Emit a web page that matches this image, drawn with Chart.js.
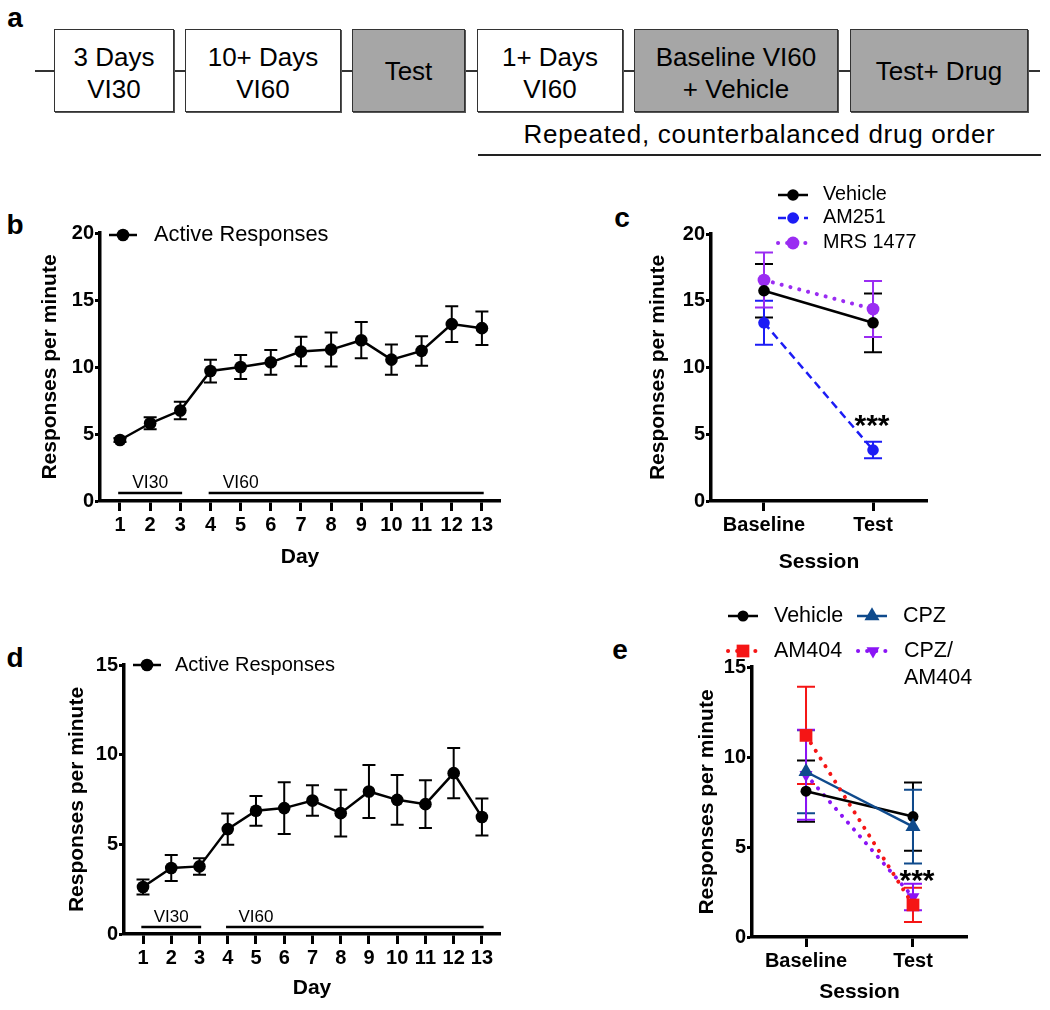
<!DOCTYPE html>
<html>
<head>
<meta charset="utf-8">
<title>Responses per minute</title>
<script src="https://cdn.jsdelivr.net/npm/chart.js@4.4.1/dist/chart.umd.min.js"></script>
<style>
  body { margin: 0; background: #fff; }
  #page { position: relative; width: 1050px; height: 1010px; overflow: hidden; font-family: 'Liberation Sans', Arial, Helvetica, sans-serif; color: #000; }
  .letter { position: absolute; font-weight: bold; font-size: 28px; line-height: 1; transform: translate(-50%, -50%); }
  .track { position: absolute; left: 35px; top: 70px; width: 1005px; height: 2px; background: #333; }
  .box { position: absolute; top: 29px; height: 83px; box-sizing: border-box; border: 1.5px solid #333;
         box-shadow: 1px 1px 0 #555; background: #fff; display: flex; align-items: center; justify-content: center;
         text-align: center; font-size: 26px; line-height: 32px; }
  .box.two { padding-top: 5px; }
  .box.grey { background: #a6a6a6; }
  .caption { position: absolute; left: 478px; width: 563px; top: 119px; text-align: center; font-size: 26px;
             line-height: 30px; letter-spacing: 0.7px; }
  .underline { position: absolute; left: 478px; top: 154px; width: 563px; height: 2px; background: #222; }
  canvas { position: absolute; }
</style>
</head>
<body>
<div id="page">
  <div class="letter" style="left:15px;top:18px">a</div>
  <div class="track"></div>
  <div class="box two" style="left:54px;width:120px">3 Days<br>VI30</div>
  <div class="box two" style="left:185px;width:156px">10+ Days<br>VI60</div>
  <div class="box grey" style="left:352px;width:113px">Test</div>
  <div class="box two" style="left:477px;width:146px">1+ Days<br>VI60</div>
  <div class="box two grey" style="left:634px;width:204px">Baseline VI60<br>+ Vehicle</div>
  <div class="box grey" style="left:850px;width:178px">Test+ Drug</div>
  <div class="caption">Repeated, counterbalanced drug order</div>
  <div class="underline"></div>

  <div class="letter" style="left:15px;top:225px">b</div>
  <div class="letter" style="left:622px;top:218px">c</div>
  <div class="letter" style="left:15px;top:658px">d</div>
  <div class="letter" style="left:620px;top:650px">e</div>

  <canvas id="chartB" width="560" height="410" style="left:0;top:175px"></canvas>
  <canvas id="chartC" width="490" height="420" style="left:560px;top:170px"></canvas>
  <canvas id="chartD" width="560" height="420" style="left:0;top:590px"></canvas>
  <canvas id="chartE" width="490" height="420" style="left:560px;top:590px"></canvas>
</div>

<script>
// ---- data ----
const days = [1, 2, 3, 4, 5, 6, 7, 8, 9, 10, 11, 12, 13];
const sessions = ['Baseline', 'Test'];

// panel b: acquisition, active responses
const bMeans  = [4.55, 5.8, 6.75, 9.7, 10.0, 10.35, 11.15, 11.3, 12.0, 10.55, 11.2, 13.2, 12.9];
const bErrors = [0.15, 0.45, 0.65, 0.85, 0.9, 0.92, 1.1, 1.27, 1.35, 1.12, 1.1, 1.33, 1.25];
const bYTicks = [0, 5, 10, 15, 20];

// panel c: drug test
const cVehicle    = [15.75, 13.35];
const cVehicleErr = [2.0, 2.2];
const cAM251      = [13.35, 3.82];
const cAM251Err   = [1.65, 0.62];
const cMRS        = [16.55, 14.38];
const cMRSErr     = [2.06, 2.1];
const cYTicks = [0, 5, 10, 15, 20];

// panel d: acquisition, second cohort
const dMeans  = [2.62, 3.68, 3.77, 5.85, 6.87, 7.02, 7.44, 6.74, 7.95, 7.48, 7.24, 8.97, 6.52];
const dErrors = [0.42, 0.73, 0.46, 0.87, 0.83, 1.44, 0.85, 1.3, 1.48, 1.39, 1.33, 1.4, 1.03];
const dYTicks = [0, 5, 10, 15];

// panel e: drug test
const eVehicle     = [8.1, 6.69];
const eVehicleErr  = [1.7, 1.9];
const eCPZ         = [9.18, 6.13];
const eCPZErr      = [2.3, 2.05];
const eAM404       = [11.2, 1.78];
const eAM404Err    = [2.7, 0.95];
const eCombo       = [9.02, 2.22];
const eComboErr    = [2.5, 0.74];
const eYTicks = [0, 5, 10, 15];

// schedule phases under the acquisition curves
const phases = [
  { label: 'VI30', from: 1, to: 3 },
  { label: 'VI60', from: 4, to: 13 }
];

const FONT = "'Liberation Sans', Arial, Helvetica, sans-serif";
Chart.defaults.font.family = FONT;
Chart.defaults.color = '#000';

// ---- plugins ----
function marker(ctx, style, radius, rotation, x, y) {
  if (Chart.helpers && Chart.helpers.drawPoint) {
    Chart.helpers.drawPoint(ctx, { pointStyle: style, radius, rotation, borderWidth: 0 }, x, y);
    return;
  }
  ctx.beginPath();
  ctx.arc(x, y, radius, 0, Math.PI * 2);
  ctx.fill();
}

const errorBarPlugin = {
  id: 'errorBars',
  beforeDatasetsDraw(chart, args, opts) {
    const { ctx } = chart;
    const y = chart.scales.y;
    chart.data.datasets.forEach((ds, i) => {
      if (!ds.errors) return;
      const meta = chart.getDatasetMeta(i);
      ctx.save();
      ctx.strokeStyle = ds.borderColor;
      ctx.lineWidth = opts.width;
      meta.data.forEach((pt, j) => {
        const v = ds.data[j].y;
        const e = ds.errors[j];
        const top = y.getPixelForValue(v + e);
        const bot = y.getPixelForValue(v - e);
        ctx.beginPath();
        ctx.moveTo(pt.x, top); ctx.lineTo(pt.x, bot);
        ctx.moveTo(pt.x - opts.cap / 2, top); ctx.lineTo(pt.x + opts.cap / 2, top);
        ctx.moveTo(pt.x - opts.cap / 2, bot); ctx.lineTo(pt.x + opts.cap / 2, bot);
        ctx.stroke();
      });
      ctx.restore();
    });
  }
};

const phasePlugin = {
  id: 'phaseBars',
  afterDatasetsDraw(chart, args, opts) {
    if (!opts.items) return;
    const { ctx } = chart;
    const { x, y } = chart.scales;
    const base = y.getPixelForValue(0) - opts.lift;
    ctx.save();
    ctx.strokeStyle = '#000';
    ctx.fillStyle = '#000';
    ctx.lineWidth = 2.5;
    ctx.font = `${opts.size}px ${FONT}`;
    ctx.textAlign = 'center';
    ctx.textBaseline = 'middle';
    opts.items.forEach(p => {
      ctx.beginPath();
      ctx.moveTo(x.getPixelForValue(p.from - 0.06), base);
      ctx.lineTo(x.getPixelForValue(p.to + 0.06), base);
      ctx.stroke();
      ctx.fillText(p.label, x.getPixelForValue(p.from + 1), base - opts.textGap);
    });
    ctx.restore();
  }
};

const starPlugin = {
  id: 'stars',
  afterDatasetsDraw(chart, args, opts) {
    if (!opts.text) return;
    const { ctx } = chart;
    const px = chart.scales.x.getPixelForValue(opts.x) + (opts.dx || 0);
    const py = chart.scales.y.getPixelForValue(opts.y);
    ctx.save();
    ctx.fillStyle = '#000';
    ctx.font = `bold ${opts.size}px ${FONT}`;
    ctx.textAlign = 'center';
    ctx.textBaseline = 'alphabetic';
    ctx.fillText(opts.text, px, py + opts.size * 0.55);
    ctx.restore();
  }
};

const legendPlugin = {
  id: 'prismLegend',
  afterDraw(chart, args, opts) {
    if (!opts.items) return;
    const { ctx } = chart;
    ctx.save();
    chart.data.datasets.forEach((ds, i) => {
      const it = opts.items[i];
      if (!it) return;
      ctx.strokeStyle = ds.borderColor;
      ctx.lineWidth = ds.borderWidth;
      ctx.lineCap = ds.borderCapStyle || 'butt';
      ctx.setLineDash(ds.borderDash || []);
      ctx.beginPath();
      ctx.moveTo(it.x - opts.half, it.y);
      ctx.lineTo(it.x + opts.half, it.y);
      ctx.stroke();
      ctx.setLineDash([]);
      ctx.lineCap = 'butt';
      ctx.fillStyle = ds.pointBackgroundColor;
      marker(ctx, ds.pointStyle || 'circle', ds.pointRadius, ds.pointRotation || 0, it.x, it.y);
      ctx.fillStyle = '#000';
      ctx.font = `${opts.size}px ${FONT}`;
      ctx.textAlign = 'left';
      ctx.textBaseline = 'middle';
      const lines = it.lines || [ds.label];
      lines.forEach((t, k) => ctx.fillText(t, it.x + opts.textDx, it.y + k * opts.lineGap));
    });
    ctx.restore();
  }
};

// ---- axis helpers ----
const axisBorder = { display: true, width: 3.5, color: '#000' };
function axisGrid(len) {
  return { drawOnChartArea: false, drawTicks: true, tickLength: len, tickWidth: 3, tickColor: '#000' };
}

function valueAxis(tickValues, width, titlePad) {
  return {
    type: 'linear',
    min: tickValues[0],
    max: tickValues[tickValues.length - 1],
    afterBuildTicks: ax => { ax.ticks = tickValues.map(v => ({ value: v })); },
    ticks: { color: '#000', font: { size: 20, weight: 'bold' }, padding: 1 },
    grid: axisGrid(5),
    border: axisBorder,
    title: { display: true, text: 'Responses per minute', color: '#000',
             font: { size: 21, weight: 'bold' }, padding: { top: titlePad, bottom: 0 } },
    afterFit: ax => { ax.width = width; }
  };
}

function categoryAxis(values, labels, min, max, title, height, titlePad) {
  return {
    type: 'linear',
    min, max,
    afterBuildTicks: ax => { ax.ticks = values.map(v => ({ value: v })); },
    ticks: { color: '#000', font: { size: 20, weight: 'bold' }, padding: 2, autoSkip: false, maxRotation: 0,
             callback: v => labels[values.indexOf(v)] },
    grid: axisGrid(10),
    border: axisBorder,
    title: { display: true, text: title, color: '#000',
             font: { size: 21, weight: 'bold' }, padding: { top: 0, bottom: titlePad } },
    afterFit: ax => { ax.height = height; }
  };
}

function series(label, xs, ys, errs, style) {
  return Object.assign({
    label,
    data: ys.map((v, i) => ({ x: xs[i], y: v })),
    errors: errs,
    backgroundColor: style.borderColor,
    pointBackgroundColor: style.borderColor,
    pointBorderWidth: 0,
    pointHoverRadius: style.pointRadius,
    tension: 0,
    fill: false
  }, style);
}

function baseOptions(padding, scales, plugins) {
  return {
    responsive: false,
    animation: false,
    devicePixelRatio: 1,
    layout: { padding },
    scales,
    plugins: Object.assign({ legend: { display: false }, tooltip: { enabled: false } }, plugins)
  };
}

const allPlugins = [errorBarPlugin, phasePlugin, starPlugin, legendPlugin];
const sessionIdx = sessions.map((s, i) => i);
const dayLabels = days.map(String);

// ---- panel b ----
new Chart(document.getElementById('chartB'), {
  type: 'line',
  data: { datasets: [
    series('Active Responses', days, bMeans, bErrors, { borderColor: '#000', borderWidth: 2.5, pointRadius: 6.3 })
  ] },
  options: baseOptions({ top: 58, right: 60, left: 0, bottom: 0 }, {
    x: categoryAxis(days, dayLabels, 0.337, 13.6, 'Day', 84, 15.4),
    y: valueAxis(bYTicks, 100, 37.4)
  }, {
    errorBars: { width: 2, cap: 13 },
    phaseBars: { items: phases, lift: 8, textGap: 10, size: 17.5 },
    prismLegend: { items: [{ x: 123, y: 60 }], half: 14, textDx: 31, size: 21.8, lineGap: 0 }
  }),
  plugins: allPlugins
});

// ---- panel c ----
new Chart(document.getElementById('chartC'), {
  type: 'line',
  data: { datasets: [
    series('Vehicle', sessionIdx, cVehicle, cVehicleErr, { borderColor: '#000', borderWidth: 2.5, pointRadius: 5.8 }),
    series('AM251', sessionIdx, cAM251, cAM251Err, { borderColor: '#1c1cf5', borderWidth: 2.5, borderDash: [8, 5], pointRadius: 5.8 }),
    series('MRS 1477', sessionIdx, cMRS, cMRSErr, { borderColor: '#9a2cf2', borderWidth: 4, borderDash: [0.1, 9],
                                                     borderCapStyle: 'round', pointRadius: 6.4 })
  ] },
  options: baseOptions({ top: 64, right: 123, left: 0, bottom: 0 }, {
    x: categoryAxis(sessionIdx, sessions, -0.486, 1.495, 'Session', 89, 15.4),
    y: valueAxis(cYTicks, 151, 85.4)
  }, {
    errorBars: { width: 2, cap: 18 },
    stars: { text: '***', x: 1, y: 6.2, dx: -1, size: 30 },
    prismLegend: { items: [{ x: 233, y: 25 }, { x: 233, y: 48 }, { x: 233, y: 73 }], half: 15, textDx: 30, size: 19.8, lineGap: 0 }
  }),
  plugins: allPlugins
});

// ---- panel d ----
new Chart(document.getElementById('chartD'), {
  type: 'line',
  data: { datasets: [
    series('Active Responses', days, dMeans, dErrors, { borderColor: '#000', borderWidth: 2.5, pointRadius: 6.3 })
  ] },
  options: baseOptions({ top: 75, right: 60, left: 0, bottom: 0 }, {
    x: categoryAxis(days, dayLabels, 0.327, 13.64, 'Day', 76, 9.4),
    y: valueAxis(dYTicks, 124, 64.4)
  }, {
    errorBars: { width: 2, cap: 13 },
    phaseBars: { items: phases, lift: 7, textGap: 10, size: 17 },
    prismLegend: { items: [{ x: 147, y: 75 }], half: 14, textDx: 28, size: 20, lineGap: 0 }
  }),
  plugins: allPlugins
});

// ---- panel e ----
new Chart(document.getElementById('chartE'), {
  type: 'line',
  data: { datasets: [
    series('Vehicle', sessionIdx, eVehicle, eVehicleErr, { borderColor: '#000', borderWidth: 2.5, pointRadius: 5.5, order: 2 }),
    series('CPZ', sessionIdx, eCPZ, eCPZErr, { borderColor: '#0f4a8c', borderWidth: 2.5, pointRadius: 8.7,
                                              pointStyle: 'triangle', order: 1 }),
    series('AM404', sessionIdx, eAM404, eAM404Err, { borderColor: '#f51515', borderWidth: 4, borderDash: [0.1, 9],
                                                     borderCapStyle: 'round', pointRadius: 9, pointStyle: 'rect', order: 0 }),
    series('CPZ/AM404', sessionIdx, eCombo, eComboErr, { borderColor: '#8a14f5', borderWidth: 4, borderDash: [0.1, 9],
                                                          borderCapStyle: 'round', pointRadius: 7.5, pointStyle: 'triangle',
                                                          pointRotation: 180, order: 3 })
  ] },
  options: baseOptions({ top: 77, right: 83, left: 0, bottom: 0 }, {
    x: categoryAxis(sessionIdx, sessions, -0.505, 1.505, 'Session', 73, 5.4),
    y: valueAxis(eYTicks, 192, 134.4)
  }, {
    errorBars: { width: 2, cap: 18 },
    stars: { text: '***', x: 1, y: 3.55, dx: 4, size: 30 },
    prismLegend: {
      items: [
        { x: 183, y: 26 },
        { x: 312, y: 26 },
        { x: 183, y: 61 },
        { x: 313, y: 61, lines: ['CPZ/', 'AM404'] }
      ],
      half: 15, textDx: 31, size: 21.5, lineGap: 27
    }
  }),
  plugins: allPlugins
});
</script>
</body>
</html>
